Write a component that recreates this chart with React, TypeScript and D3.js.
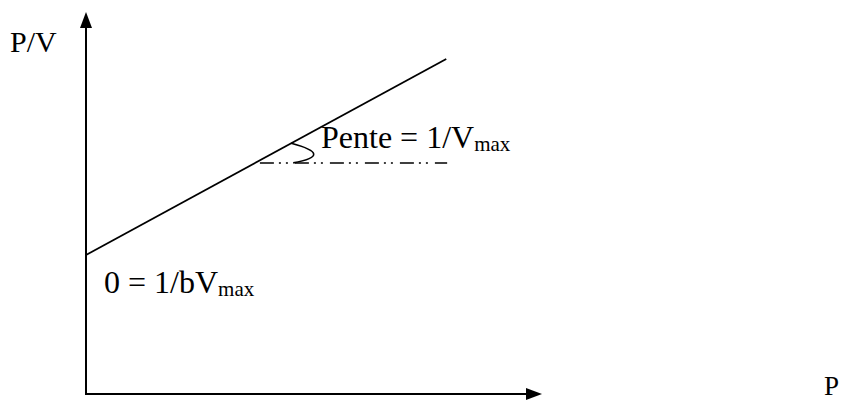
import React from "react";
import * as d3 from "d3";

// Lineweaver-style plot: P/V as a function of P (schematic, arbitrary units)
const axisDomainX = [0, 10];
const axisDomainY = [0, 10];
const lineP = [0, 7.9];
const lineRatio = [3.64, 8.77];
const slopeRefP = [3.66, 7.92];
const slopeRefRatio = 6.05;
const labelYAxis = "P/V";
const labelXAxis = "P";
const labelSlope = "Pente = 1/V";
const labelIntercept = "0 = 1/bV";
const labelSub = "max";

const W = 842;
const H = 401;
const FONT = "'Liberation Serif', 'Times New Roman', serif";

export default function App() {
  const x = d3.scaleLinear().domain(axisDomainX).range([86, 542]);
  const y = d3.scaleLinear().domain(axisDomainY).range([394, 12]);

  const line = d3
    .line<[number, number]>()
    .x((d) => x(d[0]))
    .y((d) => y(d[1]));

  const mainPts: [number, number][] = lineP.map((p, i) => [p, lineRatio[i]]);
  const refPts: [number, number][] = slopeRefP.map((p) => [p, slopeRefRatio]);

  // angle marker between the fitted line and the horizontal reference
  const arcStartP = 4.5;
  const interp = (p: number) =>
    lineRatio[0] + ((lineRatio[1] - lineRatio[0]) * (p - lineP[0])) / (lineP[1] - lineP[0]);
  const ax0 = x(arcStartP);
  const ay0 = y(interp(arcStartP));
  const ay1 = y(slopeRefRatio);
  const arcPath = `M${ax0},${ay0} Q${ax0 + 44},${(ay0 + ay1) / 2 + 2} ${ax0 + 2},${ay1}`;

  const x0 = x(0);
  const y0 = y(0);
  const xTip = x(axisDomainX[1]);
  const yTip = y(axisDomainY[1]);

  return (
    <svg
      width={W}
      height={H}
      style={{ position: "fixed", left: 0, top: 0, background: "#fff" }}
      fontFamily={FONT}
    >
      <rect width={W} height={H} fill="#fff" />
      {/* axes */}
      <line x1={x0} y1={y0} x2={x0} y2={yTip + 14} stroke="#000" strokeWidth={2} />
      <path d={`M${x0},${yTip} L${x0 - 6},${yTip + 16} L${x0 + 6},${yTip + 16} Z`} fill="#000" />
      <line x1={x0 - 1} y1={y0} x2={xTip - 14} y2={y0} stroke="#000" strokeWidth={2} />
      <path d={`M${xTip},${y0} L${xTip - 16},${y0 - 6} L${xTip - 16},${y0 + 6} Z`} fill="#000" />

      {/* fitted line */}
      <path d={line(mainPts) || ""} fill="none" stroke="#000" strokeWidth={1.8} />

      {/* horizontal reference for the slope */}
      <path
        d={line(refPts) || ""}
        fill="none"
        stroke="#000"
        strokeWidth={1.5}
        strokeDasharray="14 5 2 5 2 7"
        strokeDashoffset={28}
      />
      <path d={arcPath} fill="none" stroke="#000" strokeWidth={1.6} />

      {/* labels */}
      <text x={10} y={52} fontSize={30} fill="#000">
        {labelYAxis}
      </text>
      <text x={824} y={395} fontSize={27} fill="#000">
        {labelXAxis}
      </text>
      <text x={321} y={148} fontSize={32} fill="#000">
        {labelSlope}
        <tspan fontSize={21} dy={3}>
          {labelSub}
        </tspan>
      </text>
      <text x={104} y={293} fontSize={32} fill="#000">
        {labelIntercept}
        <tspan fontSize={21} dy={3}>
          {labelSub}
        </tspan>
      </text>
    </svg>
  );
}
